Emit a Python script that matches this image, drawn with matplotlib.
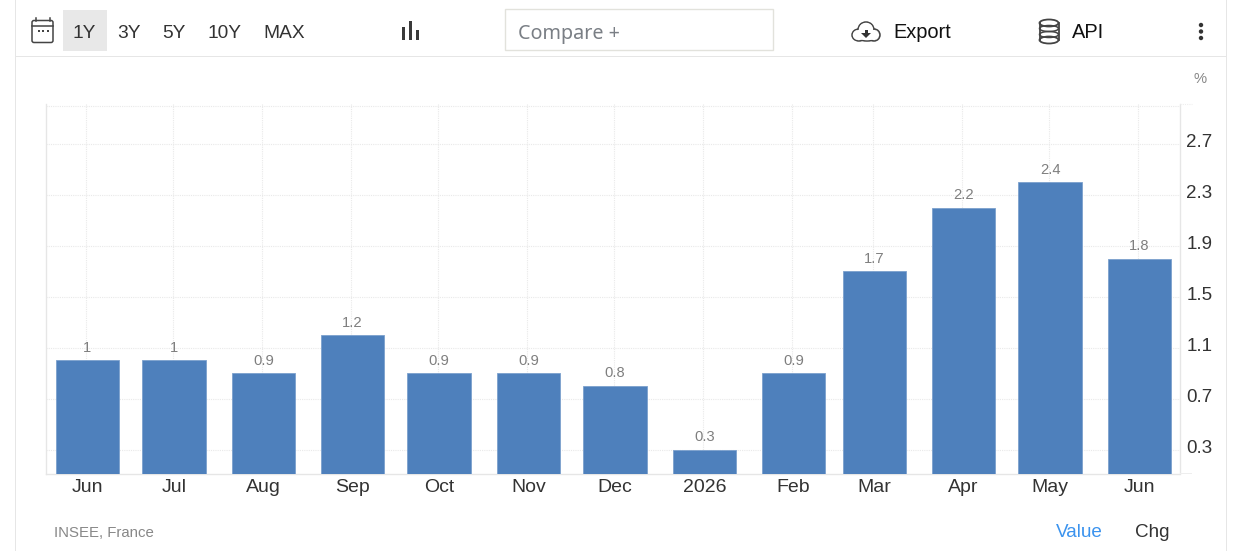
import matplotlib
matplotlib.use("Agg")
import matplotlib.pyplot as plt
import matplotlib.dates as mdates
from matplotlib.patches import Rectangle, FancyBboxPatch, Ellipse, Circle, Polygon
from matplotlib.transforms import ScaledTranslation
from datetime import datetime

plt.rcParams['font.family'] = ['Liberation Sans', 'DejaVu Sans']

W, H = 1235, 551
months = ["2025-06-01", "2025-07-01", "2025-08-01", "2025-09-01", "2025-10-01", "2025-11-01", "2025-12-01",
          "2026-01-01", "2026-02-01", "2026-03-01", "2026-04-01", "2026-05-01", "2026-06-01"]
tick_labels = ["Jun", "Jul", "Aug", "Sep", "Oct", "Nov", "Dec", "2026", "Feb", "Mar", "Apr", "May", "Jun"]
values = [1, 1, 0.9, 1.2, 0.9, 0.9, 0.8, 0.3, 0.9, 1.7, 2.2, 2.4, 1.8]
value_labels = ["1", "1", "0.9", "1.2", "0.9", "0.9", "0.8", "0.3", "0.9", "1.7", "2.2", "2.4", "1.8"]
y_ticks = [0.3, 0.7, 1.1, 1.5, 1.9, 2.3, 2.7]
tools = ["1Y", "3Y", "5Y", "10Y", "MAX"]
source = "INSEE, France"

BAR = "#4e80bc"
GRID = "#e9e9e9"
TXT = "#333333"
ICON = "#444444"

dates = [datetime.strptime(m, "%Y-%m-%d") for m in months]
fig = plt.figure(figsize=(W / 100, H / 100), dpi=100, facecolor="white")

# chart axes
L, R, T, B = 46, 1179.5, 104, 473.5
ax = fig.add_axes([L / W, 1 - B / H, (R - L) / W, (B - T) / H])
px_per_day = (1139.5 - 87.5) / 365
ax.set_xlim(mdates.date2num(dates[0]) - (87.5 - L) / px_per_day,
            mdates.date2num(dates[-1]) + (R - 1139.5) / px_per_day)
BASE = 0.113
ax.set_ylim(BASE, 3.013)
xnum = mdates.date2num(dates)
bar_days = 63.5 / px_per_day
ax.bar(xnum, [v - BASE for v in values], bottom=BASE, width=bar_days, color=BAR, zorder=3,
       edgecolor="#7ba0cd", linewidth=0.6)
for x, v, s in zip(xnum, values, value_labels):
    ax.text(x, v + 0.043, s, ha="center", va="bottom", fontsize=10.6, color="#7f7f7f", zorder=4)

ax.set_xticks(xnum)
ax.set_xticklabels(tick_labels, fontsize=14, color=TXT)
ax.yaxis.tick_right()
ax.set_yticks(y_ticks + [3.0])
ax.set_yticklabels([str(t) for t in y_ticks] + [""], fontsize=13.5, color=TXT)
ax.tick_params(axis="x", length=0, pad=4)
ax.tick_params(axis="y", length=0, pad=5)
lift = ScaledTranslation(0, 3.5 / 100, fig.dpi_scale_trans)
for lbl in ax.get_yticklabels():
    lbl.set_transform(lbl.get_transform() + lift)

ax.grid(True, axis="y", color=GRID, linestyle=(0, (1, 1)), linewidth=0.8, zorder=0)
for x in xnum:
    ax.axvline(x - 1.3 / px_per_day, color=GRID, linestyle=(0, (1, 1)), linewidth=0.8, zorder=0)
ax.set_axisbelow(True)
ax.spines["top"].set_visible(False)
for s in ("left", "right", "bottom"):
    ax.spines[s].set_color("#e6e6e6")
    ax.spines[s].set_linewidth(1)

# interface layer in pixel coordinates
ui = fig.add_axes([0, 0, 1, 1], zorder=5)
ui.set_xlim(0, W)
ui.set_ylim(H, 0)
ui.axis("off")
ui.patch.set_alpha(0)

# card border and header rule
ui.add_patch(Rectangle((15, 0), 1, H, color="#e6e6e6", lw=0))
ui.add_patch(Rectangle((1226, 0), 1, H, color="#e6e6e6", lw=0))
ui.add_patch(Rectangle((15, 56), 1212, 1, color="#e6e6e6", lw=0))
ui.plot([1180, 1192], [104, 104], color="#eeeeee", lw=0.8, ls=(0, (1, 1)))
ui.add_patch(Rectangle((1180, 473), 12, 1, color="#eeeeee", lw=0))

# calendar icon
ui.add_patch(FancyBboxPatch((32, 20.5), 21, 22, boxstyle="round,pad=0,rounding_size=2",
                            fill=False, ec=ICON, lw=1.1))
ui.plot([32, 53], [26, 26], color=ICON, lw=1.1)
ui.plot([36, 36], [18, 21], color=ICON, lw=1.1)
ui.plot([49.5, 49.5], [18, 21], color=ICON, lw=1.1)
for cx in (38.5, 43, 47.5):
    ui.add_patch(Rectangle((cx - 1, 29.5), 2, 2, color=ICON, lw=0))

# range buttons
ui.add_patch(Rectangle((63, 10), 44, 41, color="#e8e8e8", lw=0))
for t, x in zip(tools, [84.5, 129, 174, 224.5, 284.5]):
    ui.text(x, 33, t, ha="center", va="center", fontsize=13.8, color=TXT)

# chart type icon
for x0, top in zip([402, 409, 416], [27, 21, 30]):
    ui.add_patch(Rectangle((x0, top), 3, 40 - top, color="#3a3a3a", lw=0))

# compare box
ui.add_patch(Rectangle((505, 9), 268, 41, fc="white", ec="#e2e2dc", lw=1))
ui.text(518, 34.5, "Compare +", ha="left", va="center", fontsize=14.2, color="#7a7f85",
        family=["Noto Sans", "DejaVu Sans"])

# export icon
cloud = [(859, 35, 14, 12), (874, 35, 12, 12), (866, 30, 16, 16), (867, 35, 24, 12)]
for cx, cy, rx, ry in cloud:
    ui.add_patch(Ellipse((cx, cy), rx, ry, fc="white", ec=ICON, lw=1.1))
for cx, cy, rx, ry in cloud:
    ui.add_patch(Ellipse((cx, cy), rx - 1.8, ry - 1.8, fc="white", ec="none"))
ui.add_patch(Rectangle((864.5, 29.5), 3, 4, color="#333333", lw=0))
ui.add_patch(Polygon([[861, 33], [871, 33], [866, 38]], color="#333333", lw=0))
ui.text(893, 32, "Export", ha="left", va="center", fontsize=14.4, color="#111111")

# API icon
ui.plot([1039.5, 1039.5], [23, 40], color=ICON, lw=1.3)
ui.plot([1058.5, 1058.5], [23, 40], color=ICON, lw=1.3)
ui.add_patch(Ellipse((1049, 23), 19, 7, fc="none", ec=ICON, lw=1.3))
ui.add_patch(Ellipse((1049, 40), 19, 7, fc="none", ec=ICON, lw=1.3))
for cy in (28.5, 34.5):
    ui.add_patch(Ellipse((1049, cy), 19, 6, fc="none", ec=ICON, lw=1.1))
ui.text(1072, 32, "API", ha="left", va="center", fontsize=14.4, color="#111111")

# menu dots
for cy in (25, 31.5, 38):
    ui.add_patch(Circle((1201, cy), 2.2, color="#333333", lw=0))

# unit, source, toggles
ui.text(1200, 79, "%", ha="center", va="center", fontsize=10.6, color="#888888")
ui.text(54, 533, source, ha="left", va="center", fontsize=10.8, color="#888888")
ui.text(1079, 532.5, "Value", ha="center", va="center", fontsize=13.6, color="#3b93ee")
ui.text(1152, 532.5, "Chg", ha="center", va="center", fontsize=13.6, color=TXT)

fig.savefig("out.png", dpi=100, facecolor="white")
